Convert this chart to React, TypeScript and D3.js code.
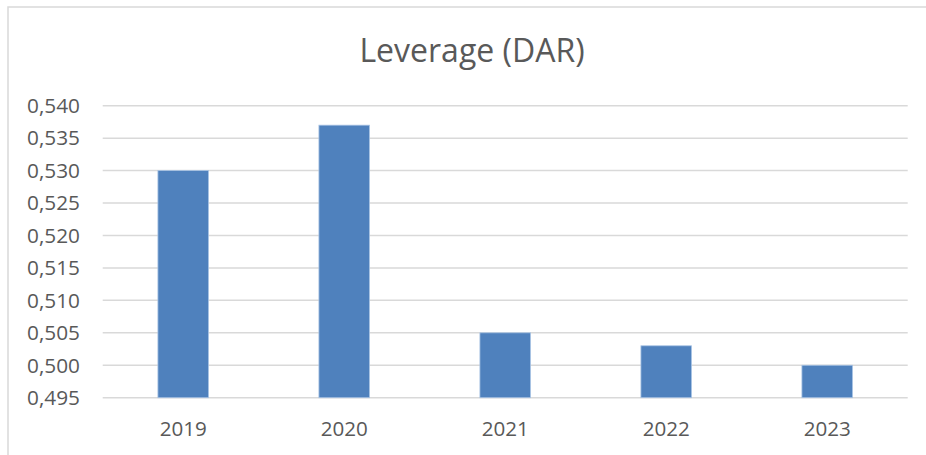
import React from "react";
import * as d3 from "d3";

const categories = ["2019", "2020", "2021", "2022", "2023"];
const values = [0.53, 0.537, 0.505, 0.503, 0.5];
const yTicks = [0.495, 0.5, 0.505, 0.51, 0.515, 0.52, 0.525, 0.53, 0.535, 0.54];
const title = "Leverage (DAR)";

const W = 926;
const H = 455;
const FONT = "'Open Sans', sans-serif";
const TEXT = "#595959";
const GRID = "#d9d9d9";
const BAR = "#4f81bd";

export default function App() {
  const left = 102.7;
  const right = 907.7;
  const top = 105.7;
  const bottom = 397.7;

  const x = d3.scaleBand<string>().domain(categories).range([left, right]).paddingInner(0.686).paddingOuter(0.343);
  const y = d3.scaleLinear().domain([0.495, 0.54]).range([bottom, top]);
  const fmt = (v: number) => d3.format(".3f")(v).replace(".", ",");

  return (
    <svg width={W} height={H} style={{ position: "absolute", left: 0, top: 0, background: "#fff" }} fontFamily={FONT}>
      <rect x={8} y={7} width={W + 20} height={H + 20} fill="#fff" stroke={GRID} strokeWidth={1.5} />
      <text x={472} y={61.5} textAnchor="middle" fontSize={32} fill={TEXT}>{title}</text>
      {yTicks.map((t) => (
        <g key={t}>
          <line x1={left} x2={right} y1={y(t)} y2={y(t)} stroke={GRID} strokeWidth={1.5} />
          <text x={80} y={y(t)} dy="0.35em" textAnchor="end" fontSize={20.8} fill={TEXT}>{fmt(t)}</text>
        </g>
      ))}
      {categories.map((c, i) => (
        <rect key={c} x={x(c)} y={y(values[i])} width={x.bandwidth()} height={y(0.495) - y(values[i])} fill={BAR} stroke="#a9c4e4" strokeWidth={0.8} />
      ))}
      {categories.map((c) => (
        <text key={c} x={(x(c) as number) + x.bandwidth() / 2} y={429} dy="0.35em" textAnchor="middle" fontSize={20.6} fill={TEXT}>{c}</text>
      ))}
    </svg>
  );
}
